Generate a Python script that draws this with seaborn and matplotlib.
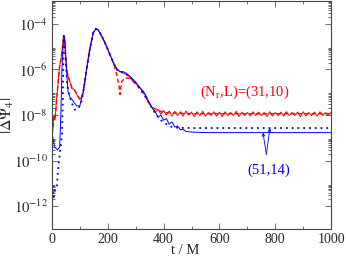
import numpy as np
import pandas as pd
import seaborn as sns
import matplotlib.pyplot as plt
from matplotlib.ticker import FixedLocator, NullFormatter

# ---------------------------
# data
# ---------------------------
# red, solid: (N_r,L)=(31,10)
red_t = [0, 3, 6, 11, 17, 23, 27, 33, 38, 42, 45, 49, 53, 58, 64, 72, 82, 92,
         100, 106, 112, 118, 125, 136, 148, 157, 165, 172, 190, 208, 220, 232,
         244, 255, 265, 280, 300, 315, 330, 340, 350]
red_v = [1e-9, 2e-9, 8e-9, 6e-9, 5e-8, 3.5e-7, 1.2e-6, 3e-6, 1e-5, 3e-5, 2.5e-5,
         4e-6, 1e-6, 5e-7, 3e-7, 1.5e-7, 1.2e-7, 7e-8, 5e-8, 6e-8, 1e-7, 3e-7,
         1.2e-6, 8e-6, 4e-5, 6e-5, 5.5e-5, 4e-5, 1.5e-5, 4.4e-6, 2e-6, 1e-6,
         8e-7, 7e-7, 6e-7, 4.5e-7, 2.5e-7, 1.6e-7, 9e-8, 5e-8, 3e-8]
# late-time wiggle of the red solid line (t = 360 ... 1000)
red_late_t = list(range(360, 1001, 10))
red_late_v = [2.0e-8, 1.3e-8, 1.8e-8, 1.1e-8, 1.6e-8, 1.0e-8, 1.5e-8, 0.9e-8,
              1.45e-8, 0.95e-8, 1.4e-8, 0.9e-8, 1.5e-8, 1.0e-8, 1.35e-8, 0.85e-8,
              1.4e-8, 0.95e-8, 1.45e-8, 0.9e-8, 1.3e-8, 0.95e-8, 1.4e-8, 0.9e-8,
              1.35e-8, 0.85e-8, 1.4e-8, 0.95e-8, 1.3e-8, 0.95e-8, 1.45e-8, 0.85e-8,
              1.35e-8, 0.95e-8, 1.3e-8, 0.9e-8, 1.4e-8, 0.95e-8, 1.35e-8, 0.95e-8,
              1.3e-8, 0.85e-8, 1.4e-8, 0.9e-8, 1.3e-8, 0.95e-8, 1.35e-8, 0.9e-8,
              1.4e-8, 0.95e-8, 1.3e-8, 0.95e-8, 1.35e-8, 0.85e-8, 1.4e-8, 0.9e-8,
              1.3e-8, 0.95e-8, 1.35e-8, 0.9e-8, 1.4e-8, 0.95e-8, 1.3e-8, 0.95e-8,
              1.35e-8]

# red, dashed
redd_t = [0, 4, 8, 12, 17, 23, 27, 33, 38, 42, 45, 49, 53, 58, 64, 72, 82, 92,
          100, 106, 112, 118, 125, 136, 148, 157, 165, 172, 190, 208, 220, 232,
          240, 244, 250, 262, 280, 300, 315, 330, 345, 360, 380, 400, 450, 500,
          600, 700, 800, 900, 1000]
redd_v = [1.5e-9, 3e-9, 1e-8, 8e-9, 5e-8, 3.5e-7, 1.2e-6, 3e-6, 1e-5, 3e-5,
          2.5e-5, 4e-6, 1e-6, 5e-7, 3e-7, 1.5e-7, 1.2e-7, 7e-8, 5e-8, 6e-8,
          1e-7, 3e-7, 1.2e-6, 8e-6, 4e-5, 6e-5, 5.5e-5, 4e-5, 1.5e-5, 4.4e-6,
          2e-6, 6e-7, 2e-7, 8e-8, 3e-7, 4.3e-7, 4e-7, 2.3e-7, 1.5e-7, 8e-8,
          4e-8, 2.2e-8, 1.6e-8, 1.3e-8, 1.2e-8, 1.15e-8, 1.15e-8, 1.15e-8,
          1.15e-8, 1.15e-8, 1.15e-8]

# blue, solid: (51,14)
blue_t = [0, 3, 10, 20, 28, 32, 36, 40, 43, 47, 52, 58, 65, 71, 80, 89, 100,
          106, 112, 118, 125, 136, 148, 157, 165, 172, 190, 208, 220, 232, 244,
          255, 265, 280, 300, 315, 330, 340, 350, 360, 370, 380, 390, 400, 410,
          420, 430, 440, 450, 460, 470, 480, 500, 550, 600, 700, 800, 900, 1000]
blue_v = [3e-9, 1e-9, 4e-10, 3e-10, 4e-10, 1e-8, 1e-6, 1e-5, 3e-5, 1.5e-5, 1e-6,
          1e-7, 6e-8, 5e-8, 3.5e-8, 2.5e-8, 2.5e-8, 5e-8, 1e-7, 3e-7, 1.2e-6,
          8e-6, 4e-5, 6e-5, 5.5e-5, 4e-5, 1.5e-5, 4.4e-6, 2e-6, 1.1e-6, 8e-7,
          8e-7, 7e-7, 5e-7, 2.8e-7, 1.6e-7, 1e-7, 6e-8, 3e-8, 2e-8, 1.4e-8,
          8e-9, 1e-8, 6e-9, 7e-9, 4e-9, 5e-9, 3e-9, 3.3e-9, 2.3e-9, 2.4e-9,
          1.9e-9, 1.8e-9, 1.7e-9, 1.7e-9, 1.7e-9, 1.7e-9, 1.7e-9, 1.7e-9]

# blue, dotted
blued_t = [3, 7, 12, 18, 22, 29, 36, 39, 42, 45, 50, 55, 64, 73, 82, 92, 100,
           106, 112, 118, 125, 136, 148, 157, 165, 172, 190, 208, 220, 232, 244,
           255, 265, 280, 300, 315, 330, 340, 350, 370, 390, 410, 430, 450, 500,
           600, 700, 800, 900, 1000]
blued_v = [8e-12, 2.5e-12, 6e-12, 8e-12, 4e-11, 2.5e-10, 1.2e-9, 5e-8, 3e-5,
           2.5e-5, 2e-6, 2e-7, 6e-8, 3e-8, 1.7e-8, 1.8e-8, 2.5e-8, 4e-8, 1e-7,
           3e-7, 1.2e-6, 8e-6, 4e-5, 6e-5, 5.5e-5, 4e-5, 1.5e-5, 4.4e-6, 2e-6,
           1e-6, 7.5e-7, 7.5e-7, 6.5e-7, 4.5e-7, 2.5e-7, 1.4e-7, 8e-8, 5e-8,
           3e-8, 1.2e-8, 6e-9, 4e-9, 3e-9, 2.8e-9, 2.7e-9, 2.7e-9, 2.7e-9,
           2.7e-9, 2.7e-9, 2.7e-9]

red_all = pd.DataFrame({"t": red_t + red_late_t, "v": red_v + red_late_v})
red_dash = pd.DataFrame({"t": redd_t, "v": redd_v})
blue_sol = pd.DataFrame({"t": blue_t, "v": blue_v})
blue_dot = pd.DataFrame({"t": blued_t, "v": blued_v})

# ---------------------------
# styling
# ---------------------------
sns.set_style("ticks")
plt.rcParams["font.family"] = ["Liberation Serif", "DejaVu Serif"]
plt.rcParams["mathtext.fontset"] = "stix"

fig = plt.figure(figsize=(3.46, 2.58), dpi=100)
ax = fig.add_axes([0.150, 0.112, 0.807, 0.884])

sns.lineplot(data=red_dash, x="t", y="v", ax=ax, color="#ff0000", lw=1.0,
             linestyle=(0, (3, 2)), estimator=None, sort=False)
sns.lineplot(data=red_all, x="t", y="v", ax=ax, color="#ff0000", lw=0.7,
             estimator=None, sort=False)
sns.lineplot(data=blue_sol, x="t", y="v", ax=ax, color="#0000ff", lw=0.7,
             estimator=None, sort=False)
sns.lineplot(data=blue_dot, x="t", y="v", ax=ax, color="#0000ff", lw=1.3,
             linestyle=(0, (1, 2.2)), estimator=None, sort=False)

ax.set_yscale("log")
ax.set_xlim(0, 1000)
ax.set_ylim(1e-13, 1e-3)

# ticks
ax.xaxis.set_major_locator(FixedLocator([0, 200, 400, 600, 800, 1000]))
ax.xaxis.set_minor_locator(FixedLocator([100, 300, 500, 700, 900]))
y_major = [1e-12, 1e-10, 1e-8, 1e-6, 1e-4]
ax.yaxis.set_major_locator(FixedLocator(y_major))
y_minor = [k * 10.0 ** e for e in [-12, -10, -8, -6, -4] for k in range(2, 10)]
ax.yaxis.set_minor_locator(FixedLocator(y_minor))
ax.yaxis.set_minor_formatter(NullFormatter())
ax.set_yticklabels([r"$10^{-12}$", r"$10^{-10}$", r"$10^{-8}$",
                    r"$10^{-6}$", r"$10^{-4}$"], fontsize=10.5)
ax.set_xticklabels(["0", "200", "400", "600", "800", "1000"], fontsize=10)
ax.tick_params(which="both", direction="in", top=True, right=True,
               color="#555555", width=0.6)
ax.tick_params(which="major", length=4, pad=3)
ax.tick_params(which="minor", length=2)
for sp in ax.spines.values():
    sp.set_linewidth(0.8)
    sp.set_color("#444444")

ax.set_xlabel("t / M", fontsize=10.5)
ax.set_ylabel(r"$|\Delta\Psi_4|$", fontsize=11.5)
ax.xaxis.set_label_coords(0.477, -0.066)
ax.yaxis.set_label_coords(-0.128, 0.5)

# annotations
ax.text(692, 9.5e-8, r"(N$_\mathrm{r}$,L)=(31,10)", color="#ff0000",
        fontsize=10.5, ha="center", va="center")
ax.text(776, 4e-11, "(51,14)", color="#0000ff", fontsize=10.5,
        ha="center", va="center")
for tx, ty in [(756, 1.7e-9), (781, 2.7e-9)]:
    ax.annotate("", xy=(tx, ty), xytext=(768, 1.9e-10),
                arrowprops=dict(arrowstyle="->", color="#0000ff", lw=0.6,
                                shrinkA=0, shrinkB=0, mutation_scale=5))

fig.savefig("out.png", dpi=100)
plt.close(fig)
